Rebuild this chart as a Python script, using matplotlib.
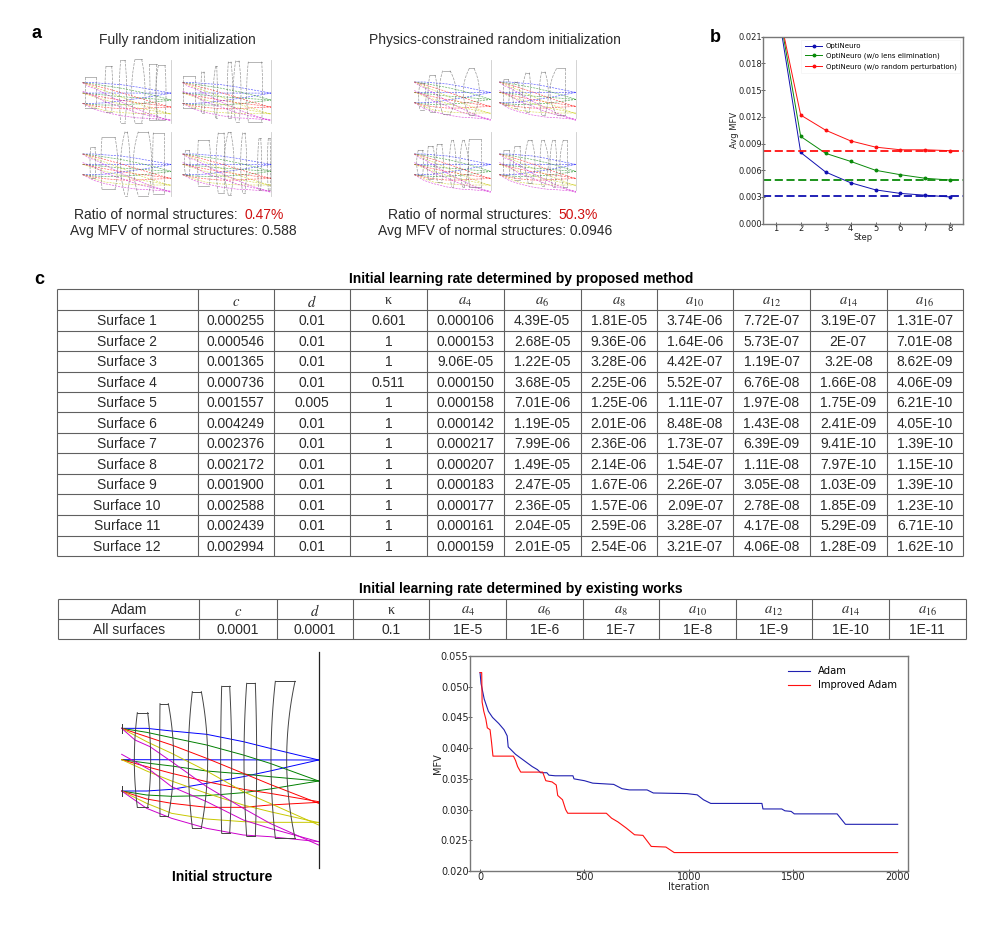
import matplotlib
matplotlib.use("Agg")
import matplotlib.pyplot as plt
import numpy as np

plt.rcParams['mathtext.fontset'] = 'stix'
W, H = 997, 925
SANS = 'Liberation Sans'

# ---------- panel b data ----------
steps = [1, 2, 3, 4, 5, 6, 7, 8]
opti = [.0255, .0080, .0058, .0046, .0038, .0034, .0032, .0030]
opti_no_elim = [.0260, .0098, .0079, .0070, .0060, .0055, .0051, .0049]
opti_no_pert = [.0255, .0122, .0105, .0093, .0086, .0083, .0083, .0082]
limit_values = [.0031, .0049, .0082]
b_labels = ['OptiNeuro', 'OptiNeuro (w/o lens elimination)', 'OptiNeuro (w/o random perturbation)']
b_yticks = [0, .003, .006, .009, .012, .015, .018, .021]

# ---------- convergence chart data ----------
adam_iter = [0, 5, 20, 40, 60, 90, 115, 130, 135, 170, 210, 250, 275, 290, 320, 330, 360, 445, 450, 500, 540, 640,
             680, 715, 800, 830, 990, 1040, 1070, 1105, 1350, 1355, 1445, 1460, 1490, 1505, 1710, 1750, 2000]
adam_mfv = [.0523, .0505, .048, .046, .045, .044, .043, .042, .0402, .039, .038, .037, .0365, .036, .036, .0356,
            .0355, .0355, .0350, .0347, .0343, .0341, .0334, .0332, .0332, .0327, .0326, .0324, .0316, .031, .031,
            .0301, .0301, .0298, .0297, .0293, .0293, .0276, .0276]
imp_iter = [0, 8, 10, 18, 28, 35, 48, 55, 62, 160, 170, 180, 195, 300, 315, 345, 365, 372, 395, 410, 420, 605, 630,
            660, 700, 740, 780, 820, 890, 930, 2000]
imp_mfv = [.0523, .0523, .0475, .046, .0447, .0433, .043, .041, .0387, .0387, .038, .037, .0361, .0361, .0347,
           .0345, .034, .0323, .0316, .030, .0294, .0294, .0286, .028, .027, .0259, .0258, .024, .0239, .023, .023]
chart_yticks = [.020, .025, .030, .035, .040, .045, .050, .055]
chart_xticks = [0, 500, 1000, 1500, 2000]

# ---------- tables ----------
col_heads = ['$c$', '$d$', 'κ', '$a_{4}$', '$a_{6}$', '$a_{8}$', '$a_{10}$', '$a_{12}$', '$a_{14}$', '$a_{16}$']
surfaces = [f'Surface {i}' for i in range(1, 13)]
col_c = ['0.000255', '0.000546', '0.001365', '0.000736', '0.001557', '0.004249', '0.002376', '0.002172', '0.001900',
         '0.002588', '0.002439', '0.002994']
col_d = ['0.01', '0.01', '0.01', '0.01', '0.005', '0.01', '0.01', '0.01', '0.01', '0.01', '0.01', '0.01']
col_k = ['0.601', '1', '1', '0.511', '1', '1', '1', '1', '1', '1', '1', '1']
col_a4 = ['0.000106', '0.000153', '9.06E-05', '0.000150', '0.000158', '0.000142', '0.000217', '0.000207', '0.000183',
          '0.000177', '0.000161', '0.000159']
col_a6 = ['4.39E-05', '2.68E-05', '1.22E-05', '3.68E-05', '7.01E-06', '1.19E-05', '7.99E-06', '1.49E-05', '2.47E-05',
          '2.36E-05', '2.04E-05', '2.01E-05']
col_a8 = ['1.81E-05', '9.36E-06', '3.28E-06', '2.25E-06', '1.25E-06', '2.01E-06', '2.36E-06', '2.14E-06', '1.67E-06',
          '1.57E-06', '2.59E-06', '2.54E-06']
col_a10 = ['3.74E-06', '1.64E-06', '4.42E-07', '5.52E-07', '1.11E-07', '8.48E-08', '1.73E-07', '1.54E-07', '2.26E-07',
           '2.09E-07', '3.28E-07', '3.21E-07']
col_a12 = ['7.72E-07', '5.73E-07', '1.19E-07', '6.76E-08', '1.97E-08', '1.43E-08', '6.39E-09', '1.11E-08', '3.05E-08',
           '2.78E-08', '4.17E-08', '4.06E-08']
col_a14 = ['3.19E-07', '2E-07', '3.2E-08', '1.66E-08', '1.75E-09', '2.41E-09', '9.41E-10', '7.97E-10', '1.03E-09',
           '1.85E-09', '5.29E-09', '1.28E-09']
col_a16 = ['1.31E-07', '7.01E-08', '8.62E-09', '4.06E-09', '6.21E-10', '4.05E-10', '1.39E-10', '1.15E-10', '1.39E-10',
           '1.23E-10', '6.71E-10', '1.62E-10']
adam_row = ['0.0001', '0.0001', '0.1', '1E-5', '1E-6', '1E-7', '1E-8', '1E-9', '1E-10', '1E-11']

t1_x = [56.7, 197.7, 274, 350, 427, 503.5, 580.7, 657, 733, 810, 886.7, 963]
t1_y = [289.3, 310, 330.7, 351, 371.7, 392, 412.3, 432.7, 453.3, 474, 494.3, 515, 535.7, 555.7]
t2_x = [58.3, 199.3, 276.7, 353, 429.3, 506.3, 582.7, 659.3, 735.7, 812.3, 889, 965.7]
t2_y = [598.7, 619.3, 639.3]

# ---------- lens diagrams: rays of the initial structure, per field and colour ----------
ray_colors = ['#0000ff', '#008000', '#ff0000', '#c8c800', '#cc00cc']
rays_blue = [[(65, 250), (140, 250), (215, 258), (320, 268), (430, 290), (510, 310), (656, 345)],
             [(65, 344), (656, 345)],
             [(65, 438), (140, 438), (215, 433), (320, 415), (430, 395), (510, 378), (656, 345)]]
rays_green = [[(65, 250), (140, 262), (215, 278), (320, 300), (430, 330), (510, 355), (656, 408)],
              [(65, 344), (140, 354), (215, 363), (320, 378), (430, 387), (510, 395), (656, 408)],
              [(65, 438), (140, 450), (215, 454), (320, 452), (430, 443), (510, 432), (656, 408)]]
rays_red = [[(65, 250), (140, 275), (215, 300), (320, 340), (430, 385), (510, 418), (656, 475)],
            [(65, 344), (140, 365), (215, 385), (320, 410), (430, 433), (510, 445), (656, 470)],
            [(65, 438), (140, 462), (215, 475), (320, 487), (430, 487), (510, 480), (656, 472)]]
rays_yellow = [[(65, 250), (140, 290), (215, 325), (320, 378), (430, 440), (510, 475), (656, 540)],
               [(65, 344), (140, 378), (215, 408), (320, 445), (430, 480), (510, 500), (656, 533)],
               [(65, 438), (140, 475), (215, 505), (320, 522), (430, 530), (510, 532), (656, 532)]]
rays_magenta = [[(65, 250), (105, 285), (150, 305), (215, 350), (320, 425), (430, 490), (510, 535), (656, 600)],
                [(65, 328), (105, 350), (150, 375), (215, 425), (320, 470), (430, 525), (510, 550), (656, 590)],
                [(65, 438), (140, 490), (215, 520), (320, 550), (430, 570), (510, 575), (656, 590)]]
all_rays = [rays_blue, rays_green, rays_red, rays_yellow, rays_magenta]

# lens tuples: top-left x, top-right x, top y, bottom y, left-surface mid x, right-surface mid x
main_lenses = [(112, 143, 203, 487, 103, 152), (180, 205, 176, 514, 179, 221), (277, 304, 140, 548, 265, 323),
               (365, 389, 124, 565, 362, 395), (440, 466, 115, 574, 432, 470), (526, 585, 109, 579, 513, 560)]

thumbs_left = [
    (304, 30, 220, 38, 98, [(46, 78, 80, 175, 46, 78), (108, 125, 48, 185, 105, 128), (152, 165, 30, 218, 148, 170),
                            (195, 215, 28, 218, 185, 225), (238, 260, 43, 210, 240, 258), (265, 285, 46, 210, 258, 288)]),
    (604, 30, 220, 338, 98, [(340, 376, 78, 175, 340, 376), (395, 402, 65, 190, 393, 405), (437, 440, 48, 205, 430, 442),
                             (475, 483, 35, 205, 472, 488), (497, 507, 32, 215, 490, 513), (535, 575, 35, 215, 530, 578)]),
    (304, 245, 437, 38, 312, [(62, 75, 292, 385, 60, 77), (96, 135, 262, 418, 93, 143), (165, 172, 245, 437, 152, 180),
                              (205, 235, 245, 437, 190, 245), (250, 283, 248, 432, 248, 283)]),
    (604, 245, 437, 338, 312, [(347, 358, 300, 375, 343, 360), (385, 417, 270, 408, 383, 422), (445, 462, 248, 430, 438, 465),
                               (475, 482, 246, 435, 462, 492), (518, 525, 248, 430, 512, 530), (567, 572, 265, 420, 563, 575),
                               (595, 600, 265, 420, 592, 602)]),
]
thumbs_right = [
    (272, 0, 175, 43, 66, [(60, 72, 70, 150, 56, 78), (90, 105, 45, 155, 84, 112), (128, 150, 32, 162, 118, 168),
                           (208, 222, 25, 165, 190, 238)]),
    (528, 0, 175, 298, 66, [(312, 325, 58, 135, 310, 328), (345, 352, 65, 145, 338, 360), (378, 388, 38, 155, 368, 392),
                            (425, 435, 35, 165, 418, 445), (470, 495, 25, 165, 450, 495)]),
    (272, 215, 390, 43, 282, [(55, 68, 270, 345, 50, 70), (85, 98, 258, 358, 82, 105), (112, 125, 252, 365, 108, 130),
                              (155, 160, 240, 380, 148, 168), (188, 192, 240, 382, 180, 205), (208, 242, 238, 382, 205, 242)]),
    (528, 215, 390, 298, 282, [(312, 328, 270, 345, 310, 330), (345, 360, 258, 360, 340, 362), (385, 395, 240, 370, 375, 405),
                               (425, 432, 240, 378, 420, 445), (458, 465, 240, 380, 450, 470), (490, 500, 240, 380, 480, 500)]),
]

# ---------- figure ----------
fig = plt.figure(figsize=(W / 100, H / 100), dpi=100)
bg = fig.add_axes([0, 0, 1, 1])
bg.set_xlim(0, W)
bg.set_ylim(H, 0)
bg.axis('off')


def px_axes(left, top, right, bottom):
    return fig.add_axes([left / W, 1 - bottom / H, (right - left) / W, (bottom - top) / H])


def txt(x, y, s, size=10, weight='normal', ha='center', color='#2a2a2a', family=SANS):
    return bg.text(x, y + 1, s, fontsize=size, fontweight=weight, ha=ha, va='center', color=color, family=family)


def surface(xe, xm, top, bottom, n=25):
    y = np.linspace(top, bottom, n)
    t = (y - (top + bottom) / 2) / ((bottom - top) / 2)
    return xm + (xe - xm) * t ** 2, y


def draw_lenses(lenses, fx, fy, **kw):
    for xl, xr, top, bot, ml, mr in lenses:
        xa, ya = surface(xl, ml, top, bot)
        xb, yb = surface(xr, mr, top, bot)
        bg.plot(fx(xa), fy(ya), **kw)
        bg.plot(fx(xb), fy(yb), **kw)
        solid = {k: v for k, v in kw.items() if k != 'ls'}
        bg.plot(fx(np.array([xl, xr])), fy(np.array([top, top])), **solid)
        bg.plot(fx(np.array([xl, xr])), fy(np.array([bot, bot])), **solid)


def draw_rays(sx, sy, ox, oy, **kw):
    for group, col in zip(all_rays, ray_colors):
        for ray in group:
            p = np.array(ray, float)
            bg.plot(ox + (p[:, 0] - 65) * sx, oy + (p[:, 1] - 250) * sy, color=col, **kw)


# thumbnails
for group, (off_x, off_y) in ((thumbs_left, (70, 50)), (thumbs_right, (400, 60))):
    for plane_x, p_top, p_bot, sx0, sy0, lenses in group:
        fx = lambda v: off_x + np.asarray(v) / 3
        fy = lambda v: off_y + np.asarray(v) / 3
        kx = (plane_x - sx0) / 591 / 3
        ky = 0.33 / 3
        draw_rays(kx, ky, fx(sx0), fy(sy0), lw=0.5, alpha=0.6, ls=(0, (3, 1.5)))
        draw_lenses(lenses, fx, fy, color='#555555', lw=0.5, alpha=0.6, ls=(0, (4, 1.5)))
        bg.plot(fx([plane_x, plane_x]), fy([p_top, p_bot]), color='#cccccc', lw=0.6)

# main lens
mfx = lambda v: 100 + np.asarray(v) / 3
mfy = lambda v: 645 + np.asarray(v) / 3
for group, col in zip(all_rays, ray_colors):
    for ray in group:
        p = np.array(ray, float)
        bg.plot(mfx(p[:, 0]), mfy(p[:, 1]), color=col, lw=0.7)
draw_lenses(main_lenses, mfx, mfy, color='#444444', lw=0.7)
bg.plot(mfx([656, 656]), mfy([22, 668]), color='#222222', lw=0.9)
for y0 in (250, 438):
    bg.plot(mfx([66, 66]), mfy([y0 - 14, y0 + 14]), color='#333333', lw=0.7)
txt(222, 876, 'Initial structure', 10, 'bold', color='black')

# panel letters
txt(36, 32, 'a', 13, 'bold', color='black')
txt(715, 36, 'b', 13, 'bold', color='black')
txt(39, 278, 'c', 13, 'bold', color='black')

# panel a captions
txt(177, 39, 'Fully random initialization')
txt(495, 39, 'Physics-constrained random initialization')
renderer = fig.canvas.get_renderer()
for x0, y0, pct in ((74, 214, '0.47%'), (388, 214, '50.3%')):
    t = txt(x0, y0, 'Ratio of normal structures: ', ha='left')
    ext = t.get_window_extent(renderer)
    txt(ext.x1 + 3, y0, pct, ha='left', color='#d01010')
txt(183, 230, 'Avg MFV of normal structures: 0.588')
txt(495, 230, 'Avg MFV of normal structures: 0.0946')


# tables
def grid(xs, ys):
    for y in ys:
        bg.plot([xs[0], xs[-1]], [y, y], color='#606060', lw=0.8, solid_capstyle='butt')
    for x in xs:
        bg.plot([x, x], [ys[0], ys[-1]], color='#606060', lw=0.8, solid_capstyle='butt')


def cell_center(v, i):
    return (v[i] + v[i + 1]) / 2


def head(xs, y, i, s):
    if s == 'κ':
        txt(cell_center(xs, i), y, s, 10, family='Liberation Serif')
    else:
        bg.text(cell_center(xs, i), y + 2, s, fontsize=10.5, ha='center', va='center', color='#2a2a2a')


txt(521, 278, 'Initial learning rate determined by proposed method', 10, 'bold', color='black')
grid(t1_x, t1_y)
for j, s in enumerate(col_heads):
    head(t1_x, cell_center(t1_y, 0), j + 1, s)
columns = [surfaces, col_c, col_d, col_k, col_a4, col_a6, col_a8, col_a10, col_a12, col_a14, col_a16]
for j, col in enumerate(columns):
    for i, s in enumerate(col):
        txt(cell_center(t1_x, j), cell_center(t1_y, i + 1), s)

txt(521, 588, 'Initial learning rate determined by existing works', 10, 'bold', color='black')
grid(t2_x, t2_y)
txt(cell_center(t2_x, 0), cell_center(t2_y, 0), 'Adam')
txt(cell_center(t2_x, 0), cell_center(t2_y, 1), 'All surfaces')
for j, s in enumerate(col_heads):
    head(t2_x, cell_center(t2_y, 0), j + 1, s)
for j, s in enumerate(adam_row):
    txt(cell_center(t2_x, j + 1), cell_center(t2_y, 1), s)

# panel b
axb = px_axes(763.3, 36.7, 963.3, 223.7)
for vals, col, lab, lim in zip((opti, opti_no_elim, opti_no_pert), ('#1010b0', '#0a8a0a', '#ff1010'), b_labels, limit_values):
    axb.plot(steps, vals, color=col, lw=0.7, marker='o', ms=1.8, label=lab)
    axb.axhline(lim, color=col, lw=1.3, ls=(0, (4.5, 2)))
axb.set_xlim(0.5, 8.52)
axb.set_ylim(0, 0.021)
axb.set_xticks(steps)
axb.set_yticks(b_yticks)
axb.set_yticklabels([f'{v:.3f}' for v in b_yticks])
axb.tick_params(labelsize=6, direction='inout', length=3, width=0.5, colors='#222222')
axb.tick_params(axis='x', pad=-1.5)
axb.tick_params(axis='y', pad=-0.5)
axb.set_xlabel('Step', fontsize=6, labelpad=0.4, color='#222222')
axb.set_ylabel('Avg MFV', fontsize=6, labelpad=-0.7, color='#222222')
for s in axb.spines.values():
    s.set_color('#777777')
    s.set_linewidth(1.0)
leg = axb.legend(loc='upper right', fontsize=5.05, frameon=True, framealpha=0.9, edgecolor='#eeeeee', fancybox=False,
                 bbox_to_anchor=(0.985, 0.985), borderaxespad=0, handlelength=2.5, labelspacing=0.55, borderpad=0.5,
                 handletextpad=0.5)
leg.get_frame().set_linewidth(0.4)

# convergence chart
axc = px_axes(470, 656, 908.3, 871)
axc.plot(adam_iter, adam_mfv, color='#2020b0', lw=0.8, label='Adam')
axc.plot(imp_iter, imp_mfv, color='#ff1010', lw=0.8, label='Improved Adam')
axc.set_xlim(-48, 2051)
axc.set_ylim(0.02, 0.055)
axc.set_xticks(chart_xticks)
axc.set_yticks(chart_yticks)
axc.set_yticklabels([f'{v:.3f}' for v in chart_yticks])
axc.tick_params(labelsize=7, direction='inout', length=3, width=0.5, colors='#222222')
axc.tick_params(axis='x', pad=-1)
axc.tick_params(axis='y', pad=-0.5)
axc.set_xlabel('Iteration', fontsize=7, labelpad=0, color='#222222')
axc.set_ylabel('MFV', fontsize=7, labelpad=-1.4, color='#222222')
for s in axc.spines.values():
    s.set_color('#777777')
    s.set_linewidth(1.0)
axc.legend(loc='upper right', fontsize=7.2, frameon=False, bbox_to_anchor=(0.995, 0.995), handlelength=2.2,
           labelspacing=0.4)

fig.savefig('out.png', dpi=100, facecolor='white')
